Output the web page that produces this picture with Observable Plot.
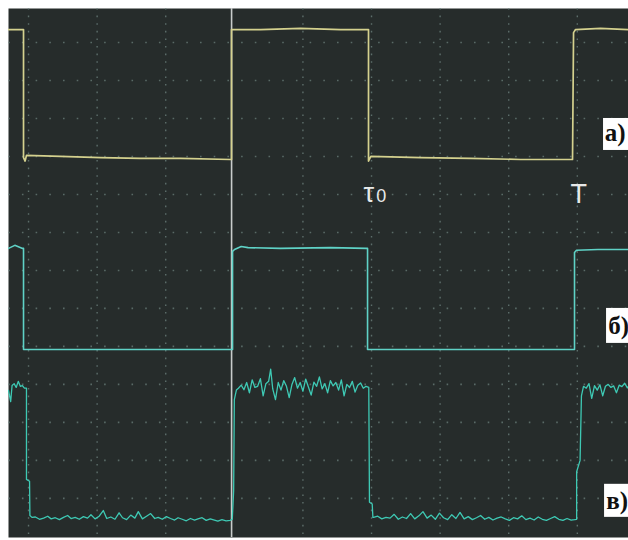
<!DOCTYPE html>
<html>
<head>
<meta charset="utf-8">
<script src="https://cdn.jsdelivr.net/npm/d3@7"></script>
<script src="https://cdn.jsdelivr.net/npm/@observablehq/plot@0.6"></script>
<style>
  html, body { margin: 0; padding: 0; background: #ffffff; }
  svg { display: block; }
</style>
</head>
<body>
<div id="chart"></div>
<script>
// Time axis in screen divisions, voltage axis in vertical divisions
const gridX = [0, 1, 2, 4, 5, 6, 7, 8];
const gridY = [0, 1, 2, 3, 4, 5, 6, 7, 8, 9, 10, 11, 12];
const cursorX = [2.96];

// a) yellow trace
const traceA = [
  [-0.292, 12.34], [-0.087, 12.34], [-0.073, 12.34], [-0.073, 8.97], [-0.05, 8.88],
  [-0.03, 9.03], [0.466, 9.0], [1.05, 8.97], [1.633, 8.95], [2.216, 8.95], [2.945, 8.92],
  [2.959, 8.92], [2.959, 12.34], [3.382, 12.34], [3.965, 12.37], [4.548, 12.34], [4.942, 12.34],
  [4.956, 12.34], [4.956, 8.88], [4.99, 9.0], [5.714, 8.97], [6.443, 8.95], [7.172, 8.92],
  [7.915, 8.92], [7.93, 8.92], [7.945, 12.26], [7.974, 12.34], [8.338, 12.37], [8.746, 12.34]
];

// б) cyan trace
const traceB = [
  [-0.292, 6.58], [-0.2, 6.66], [-0.087, 6.58], [-0.073, 6.58], [-0.073, 3.92], [-0.044, 3.92],
  [2.959, 3.92], [2.974, 3.92], [2.974, 6.5], [3.003, 6.55], [3.1, 6.63], [3.2, 6.6], [3.673, 6.58],
  [4.402, 6.6], [4.927, 6.58], [4.942, 6.58], [4.942, 3.92], [4.985, 3.92], [7.945, 3.92],
  [7.959, 3.92], [7.959, 6.47], [7.988, 6.53], [8.3, 6.55], [8.746, 6.55]
];

// в) noisy teal trace
const traceC = [
  [-0.292, 2.84], [-0.26, 2.55], [-0.24, 2.97], [-0.21, 3.02], [-0.18, 2.92], [-0.15, 3.08],
  [-0.12, 2.95], [-0.09, 2.97], [-0.06, 2.9], [-0.03, 2.9], [-0.03, 0.5], [0.015, 0.45],
  [0.02, -0.45], [0.05, -0.5],
  [0.10, -0.49], [0.16, -0.55], [0.22, -0.52], [0.28, -0.47], [0.33, -0.54], [0.39, -0.51],
  [0.45, -0.56], [0.51, -0.50], [0.57, -0.45], [0.62, -0.53], [0.68, -0.50], [0.74, -0.55],
  [0.80, -0.48], [0.86, -0.52], [0.91, -0.43], [0.97, -0.54], [1.03, -0.47], [1.09, -0.32],
  [1.14, -0.53], [1.20, -0.49], [1.26, -0.55], [1.32, -0.38], [1.37, -0.51], [1.43, -0.56],
  [1.49, -0.44], [1.55, -0.52], [1.60, -0.35], [1.66, -0.54], [1.72, -0.47], [1.78, -0.40],
  [1.84, -0.53], [1.89, -0.50], [1.95, -0.55], [2.01, -0.48], [2.07, -0.53], [2.13, -0.57],
  [2.18, -0.51], [2.24, -0.55], [2.30, -0.59], [2.36, -0.53], [2.42, -0.57], [2.47, -0.54],
  [2.53, -0.51], [2.59, -0.58], [2.65, -0.54], [2.71, -0.57], [2.76, -0.60], [2.82, -0.56],
  [2.88, -0.59], [2.94, -0.58], [2.97, -0.55],
  [2.99, 0.2], [3.0, 2.6], [3.03, 2.85], [3.06, 2.90],
  [3.10, 2.98], [3.14, 2.86], [3.18, 3.05], [3.22, 2.78], [3.26, 3.12], [3.30, 2.92],
  [3.34, 2.95], [3.38, 3.15], [3.42, 2.70], [3.46, 3.02], [3.50, 3.08], [3.53, 3.40],
  [3.56, 2.88], [3.60, 2.60], [3.64, 3.05], [3.68, 2.85], [3.72, 3.10], [3.76, 2.95],
  [3.80, 2.65], [3.84, 3.00], [3.88, 3.18], [3.92, 2.90], [3.96, 3.05], [4.00, 2.82],
  [4.04, 3.14], [4.08, 2.93], [4.12, 2.72], [4.16, 3.06], [4.20, 2.95], [4.24, 3.20],
  [4.28, 2.88], [4.32, 3.02], [4.36, 2.78], [4.40, 3.10], [4.44, 2.96], [4.48, 3.05],
  [4.52, 2.85], [4.56, 3.12], [4.60, 2.70], [4.64, 3.00], [4.68, 2.92], [4.72, 3.08],
  [4.76, 2.80], [4.80, 2.98], [4.84, 3.04], [4.88, 2.90], [4.92, 2.95], [4.96, 2.92],
  [4.97, -0.1], [5.01, -0.15], [5.02, -0.5],
  [5.03, -0.50], [5.09, -0.47], [5.15, -0.54], [5.21, -0.50], [5.27, -0.52], [5.33, -0.42],
  [5.39, -0.55], [5.45, -0.49], [5.51, -0.53], [5.57, -0.40], [5.63, -0.54], [5.69, -0.46],
  [5.75, -0.35], [5.81, -0.52], [5.87, -0.44], [5.93, -0.55], [5.99, -0.39], [6.05, -0.51],
  [6.11, -0.56], [6.17, -0.43], [6.23, -0.53], [6.29, -0.37], [6.35, -0.54], [6.41, -0.48],
  [6.47, -0.56], [6.53, -0.51], [6.59, -0.45], [6.65, -0.55], [6.71, -0.50], [6.77, -0.57],
  [6.83, -0.52], [6.89, -0.49], [6.95, -0.54], [7.01, -0.58], [7.07, -0.51], [7.13, -0.54],
  [7.19, -0.46], [7.25, -0.56], [7.31, -0.52], [7.37, -0.57], [7.43, -0.49], [7.49, -0.55],
  [7.55, -0.58], [7.61, -0.53], [7.67, -0.48], [7.73, -0.55], [7.79, -0.58], [7.85, -0.53],
  [7.91, -0.57], [7.96, -0.56], [7.99, -0.55],
  [7.99, 0.7], [8.04, 1.0], [8.06, 2.7], [8.09, 2.95],
  [8.13, 2.90], [8.17, 3.02], [8.21, 2.63], [8.25, 2.97], [8.29, 2.85], [8.33, 2.99],
  [8.37, 2.70], [8.41, 2.95], [8.45, 3.00], [8.49, 2.92], [8.53, 2.96], [8.57, 2.78],
  [8.61, 2.98], [8.65, 2.94], [8.69, 3.03], [8.73, 2.91], [8.746, 2.95]
];

// Channel tags (white boxes with bold serif letters)
const tagText = ["a)", "б)", "в)"];
const tagX = [8.40, 8.45, 8.42];
const tagY = [9.62, 4.53, -0.07];
const tagBoxX1 = [8.382, 8.426, 8.397];
const tagBoxY1 = [9.158, 4.079, -0.5];
const tagBoxY2 = [10.0, 5.0, 0.37];

// Time markers
const markText = ["τ", "T"];
const markX = [4.883, 7.9];
const markY = [7.8, 7.78];
const subText = ["0"];
const subX = [5.07];
const subY = [7.8];

const xDomain = [-0.292, 8.746];
const yDomain = [-1.03, 12.895];

const tags = tagText.map((t, i) => ({t, x: tagX[i], y: tagY[i], x1: tagBoxX1[i], x2: xDomain[1], y1: tagBoxY1[i], y2: tagBoxY2[i]}));
const marks = markText.map((t, i) => ({t, x: markX[i], y: markY[i]}));
const subs = subText.map((t, i) => ({t, x: subX[i], y: subY[i]}));

const chart = Plot.plot({
  width: 628,
  height: 540,
  marginLeft: 8,
  marginTop: 8,
  marginRight: 0,
  marginBottom: 3,
  x: {domain: xDomain, axis: null},
  y: {domain: yDomain, axis: null},
  style: {background: "#ffffff"},
  marks: [
    Plot.frame({fill: "#262c2b", stroke: "none"}),
    Plot.ruleX(gridX, {stroke: "#6f8480", strokeWidth: 1.4, strokeDasharray: "1.6,6", strokeOpacity: 0.75}),
    Plot.ruleY(gridY, {stroke: "#6f8480", strokeWidth: 1.6, strokeDasharray: "1.6,12.1", strokeDashoffset: -0.2, strokeOpacity: 0.7}),
    Plot.ruleX(cursorX, {stroke: "#c8cccb", strokeWidth: 1.6}),
    Plot.line(traceA, {x: d => d[0], y: d => d[1], stroke: "#d4d18e", strokeWidth: 1.7, clip: true}),
    Plot.line(traceB, {x: d => d[0], y: d => d[1], stroke: "#5fd2c6", strokeWidth: 1.6, clip: true}),
    Plot.line(traceC, {x: d => d[0], y: d => d[1], stroke: "#3ec9b4", strokeWidth: 1.3, clip: true}),
    Plot.rect(tags, {x1: "x1", x2: "x2", y1: "y1", y2: "y2", fill: "#ffffff"}),
    Plot.text(tags, {x: "x", y: "y", text: "t", textAnchor: "start", lineAnchor: "middle", fill: "#111111",
      fontFamily: "Liberation Serif, Times New Roman, serif", fontWeight: "bold", fontSize: 25, clip: true}),
    Plot.text(marks, {x: "x", y: "y", text: "t", textAnchor: "start", lineAnchor: "bottom", fill: "#e6e8e8",
      fontFamily: "Liberation Sans, Arial, sans-serif", fontSize: 27}),
    Plot.text(subs, {x: "x", y: "y", text: "t", textAnchor: "start", lineAnchor: "bottom", fill: "#e6e8e8",
      fontFamily: "Liberation Sans, Arial, sans-serif", fontSize: 18})
  ]
});
document.getElementById("chart").appendChild(chart);
</script>
</body>
</html>
